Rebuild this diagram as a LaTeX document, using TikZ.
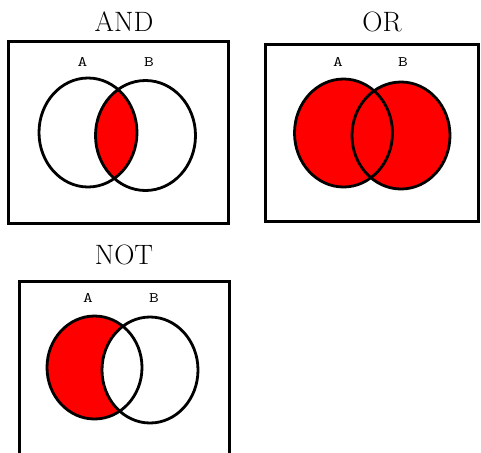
\documentclass[tikz,border=0pt]{standalone}
\tikzset{
  frame/.style={line width=3pt},
  venn/.style={line width=2.8pt},
  optitle/.style={font=\fontsize{28}{30}\selectfont, inner sep=0pt},
  setlabel/.style={font=\ttfamily\fontsize{14.5}{16}\selectfont, inner sep=0pt, xscale=1.3},
}
\begin{document}
\begin{tikzpicture}[x=1pt, y=-1pt]
    \useasboundingbox (0,0) rectangle (481,452);

    % AND：只填交集
    \node[optitle] (andtitle) at (124,22) {AND};
    \draw[frame] (8,42) rectangle (228,223);
    \begin{scope}
        \clip (88,132.5) ellipse [x radius=49pt, y radius=54.5pt];
        \fill[red] (145.5,135.5) ellipse [x radius=50pt, y radius=55pt];
    \end{scope}
    \draw[venn] (88,132.5) ellipse [x radius=49pt, y radius=54.5pt];
    \draw[venn] (145.5,135.5) ellipse [x radius=50pt, y radius=55pt];
    \node[setlabel] (andA) at (82.5,62) {A};
    \node[setlabel] (andB) at (149,62) {B};

    % OR：两个圆都填
    \node[optitle] (ortitle) at (382,22) {OR};
    \draw[frame] (265,45) rectangle (478,221);
    \fill[red] (343.5,133) ellipse [x radius=49pt, y radius=54pt];
    \fill[red] (401,135.5) ellipse [x radius=49pt, y radius=53.5pt];
    \draw[venn] (343.5,133) ellipse [x radius=49pt, y radius=54pt];
    \draw[venn] (401,135.5) ellipse [x radius=49pt, y radius=53.5pt];
    \node[setlabel] (orA) at (338,62) {A};
    \node[setlabel] (orB) at (403,62) {B};

    % NOT：A 去掉 B
    \node[optitle] (nottitle) at (124,255) {NOT};
    \draw[frame] (19,460) |- (229,281) -- (229,460);
    \fill[red] (94.5,367.5) ellipse [x radius=47.5pt, y radius=51.5pt];
    \fill[white] (150,370) ellipse [x radius=48pt, y radius=53pt];
    \draw[venn] (94.5,367.5) ellipse [x radius=47.5pt, y radius=51.5pt];
    \draw[venn] (150,370) ellipse [x radius=48pt, y radius=53pt];
    \node[setlabel] (notA) at (88,298) {A};
    \node[setlabel] (notB) at (154,298) {B};
\end{tikzpicture}
\end{document}
